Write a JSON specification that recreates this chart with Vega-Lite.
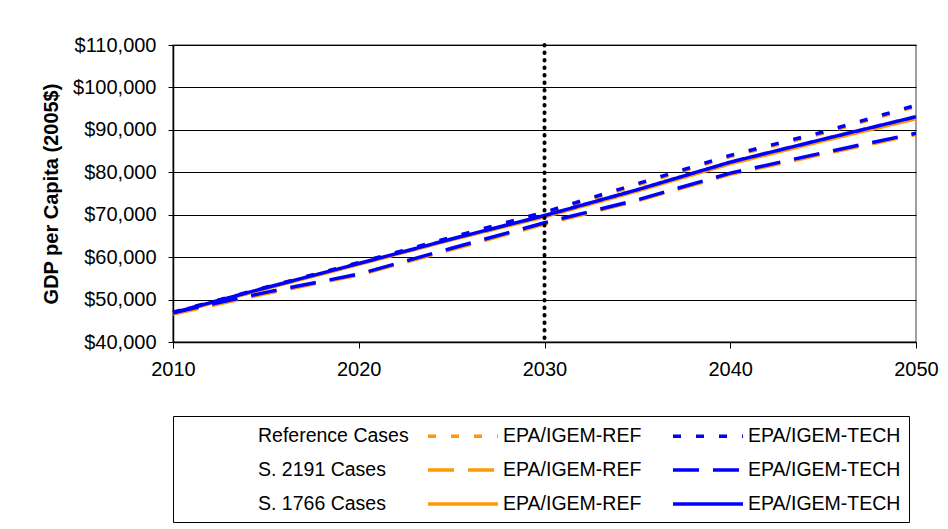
{
  "$schema": "https://vega.github.io/schema/vega-lite/v6.json",
  "width": 743,
  "height": 297,
  "autosize": {"type": "none"},
  "padding": {"left": 173, "top": 45, "right": 32, "bottom": 187},
  "background": "white",
  "config": {
    "view": {"stroke": "#808080", "strokeWidth": 1.5},
    "axis": {
      "labelFont": "Liberation Sans",
      "labelFontSize": 20,
      "labelColor": "#000",
      "domainColor": "#000",
      "tickColor": "#000",
      "titleColor": "#000"
    },
    "legend": {
      "labelFont": "Liberation Sans",
      "labelFontSize": 19.5,
      "labelColor": "#000"
    }
  },
  "datasets": {
    "gdp": [
      {"series": "Ref TECH", "year": 2010, "gdp": 47000},
      {"series": "Ref TECH", "year": 2015, "gdp": 52900},
      {"series": "Ref TECH", "year": 2020, "gdp": 58700},
      {"series": "Ref TECH", "year": 2025, "gdp": 64700},
      {"series": "Ref TECH", "year": 2030, "gdp": 70600},
      {"series": "Ref TECH", "year": 2035, "gdp": 77300},
      {"series": "Ref TECH", "year": 2040, "gdp": 84000},
      {"series": "Ref TECH", "year": 2045, "gdp": 89500},
      {"series": "Ref TECH", "year": 2050, "gdp": 95800},
      {"series": "Ref REF", "year": 2010, "gdp": 46900},
      {"series": "Ref REF", "year": 2015, "gdp": 52800},
      {"series": "Ref REF", "year": 2020, "gdp": 58700},
      {"series": "Ref REF", "year": 2025, "gdp": 64500},
      {"series": "Ref REF", "year": 2030, "gdp": 70300},
      {"series": "Ref REF", "year": 2035, "gdp": 77000},
      {"series": "Ref REF", "year": 2040, "gdp": 83700},
      {"series": "Ref REF", "year": 2045, "gdp": 89200},
      {"series": "Ref REF", "year": 2050, "gdp": 95500},
      {"series": "S2191 TECH", "year": 2010, "gdp": 46900},
      {"series": "S2191 TECH", "year": 2015, "gdp": 51700},
      {"series": "S2191 TECH", "year": 2020, "gdp": 56000},
      {"series": "S2191 TECH", "year": 2025, "gdp": 62100},
      {"series": "S2191 TECH", "year": 2030, "gdp": 68100},
      {"series": "S2191 TECH", "year": 2035, "gdp": 73500},
      {"series": "S2191 TECH", "year": 2040, "gdp": 79800},
      {"series": "S2191 TECH", "year": 2045, "gdp": 84600},
      {"series": "S2191 TECH", "year": 2050, "gdp": 89200},
      {"series": "S2191 REF", "year": 2010, "gdp": 46600},
      {"series": "S2191 REF", "year": 2015, "gdp": 51400},
      {"series": "S2191 REF", "year": 2020, "gdp": 55800},
      {"series": "S2191 REF", "year": 2025, "gdp": 61800},
      {"series": "S2191 REF", "year": 2030, "gdp": 67800},
      {"series": "S2191 REF", "year": 2035, "gdp": 73300},
      {"series": "S2191 REF", "year": 2040, "gdp": 79500},
      {"series": "S2191 REF", "year": 2045, "gdp": 84300},
      {"series": "S2191 REF", "year": 2050, "gdp": 88900},
      {"series": "S1766 TECH", "year": 2010, "gdp": 46900},
      {"series": "S1766 TECH", "year": 2015, "gdp": 52800},
      {"series": "S1766 TECH", "year": 2020, "gdp": 58500},
      {"series": "S1766 TECH", "year": 2025, "gdp": 64300},
      {"series": "S1766 TECH", "year": 2030, "gdp": 69800},
      {"series": "S1766 TECH", "year": 2035, "gdp": 75900},
      {"series": "S1766 TECH", "year": 2040, "gdp": 82400},
      {"series": "S1766 TECH", "year": 2045, "gdp": 87800},
      {"series": "S1766 TECH", "year": 2050, "gdp": 93100},
      {"series": "S1766 REF", "year": 2010, "gdp": 46700},
      {"series": "S1766 REF", "year": 2015, "gdp": 52600},
      {"series": "S1766 REF", "year": 2020, "gdp": 58300},
      {"series": "S1766 REF", "year": 2025, "gdp": 64100},
      {"series": "S1766 REF", "year": 2030, "gdp": 69500},
      {"series": "S1766 REF", "year": 2035, "gdp": 75600},
      {"series": "S1766 REF", "year": 2040, "gdp": 82000},
      {"series": "S1766 REF", "year": 2045, "gdp": 87400},
      {"series": "S1766 REF", "year": 2050, "gdp": 92600}
    ]
  },
  "encoding": {
    "x": {
      "field": "year",
      "type": "quantitative",
      "scale": {"domain": [2010, 2050], "nice": false, "zero": false},
      "axis": {
        "title": null,
        "values": [2010, 2020, 2030, 2040, 2050],
        "format": "d",
        "grid": false,
        "labelFlush": false,
        "tickSize": 6,
        "labelPadding": 11,
        "domainWidth": 1.5
      }
    }
  },
  "layer": [
    {
      "data": {"name": "gdp"},
      "transform": [{"filter": "indexof(datum.series, 'REF') > 0"}],
      "mark": {"type": "line", "strokeWidth": 3.5, "strokeCap": "butt"},
      "encoding": {
        "y": {
          "field": "gdp",
          "type": "quantitative",
          "scale": {"domain": [40000, 110000], "nice": false, "zero": false},
          "axis": {
            "title": "GDP per Capita (2005$)",
            "titleFont": "Liberation Sans",
            "titleFontSize": 20,
            "titleFontWeight": "bold",
            "titlePadding": 11,
            "values": [40000, 50000, 60000, 70000, 80000, 90000, 100000, 110000],
            "format": "$,.0f",
            "grid": true,
            "gridColor": "#000",
            "gridWidth": 1,
            "tickSize": 5,
            "labelPadding": 12,
            "domainWidth": 1.5
          }
        },
        "color": {
          "field": "series",
          "type": "nominal",
          "scale": {
            "domain": ["Reference Cases", "Ref REF", "Ref TECH", "S. 2191 Cases", "S2191 REF", "S2191 TECH", "S. 1766 Cases", "S1766 REF", "S1766 TECH"],
            "range": ["transparent", "#FF9900", "#0000FF", "transparent", "#FF9900", "#0000FF", "transparent", "#FF9900", "#0000FF"]
          },
          "legend": {
            "title": null,
            "orient": "none",
            "legendX": 0,
            "legendY": 371,
            "direction": "horizontal",
            "columns": 3,
            "gridAlign": "all",
            "columnPadding": 10,
            "rowPadding": 12,
            "padding": 8,
            "strokeColor": "#000",
            "symbolType": "M-1,0H6",
            "symbolSize": 400,
            "symbolStrokeWidth": 3.5,
            "labelOffset": 53,
            "labelExpr": "indexof(datum.label, ' REF') > 0 ? 'EPA/IGEM-REF' : (indexof(datum.label, ' TECH') > 0 ? 'EPA/IGEM-TECH' : datum.label)"
          }
        },
        "strokeDash": {
          "field": "series",
          "type": "nominal",
          "scale": {
            "domain": ["Reference Cases", "Ref REF", "Ref TECH", "S. 2191 Cases", "S2191 REF", "S2191 TECH", "S. 1766 Cases", "S1766 REF", "S1766 TECH"],
            "range": [[1, 0], [8, 15], [8, 15], [1, 0], [26, 14], [26, 14], [1, 0], [1, 0], [1, 0]]
          }
        }
      }
    },
    {
      "data": {"name": "gdp"},
      "transform": [{"filter": "indexof(datum.series, 'TECH') > 0"}],
      "mark": {"type": "line", "strokeWidth": 3.5, "strokeCap": "butt"},
      "encoding": {
        "y": {"field": "gdp", "type": "quantitative"},
        "color": {"field": "series", "type": "nominal"},
        "strokeDash": {"field": "series", "type": "nominal"}
      }
    },
    {
      "data": {"values": [{"year": 2030}]},
      "mark": {"type": "rule", "color": "#000", "strokeWidth": 4, "strokeDash": [0.5, 7], "strokeCap": "round"},
      "encoding": {}
    }
  ]
}
